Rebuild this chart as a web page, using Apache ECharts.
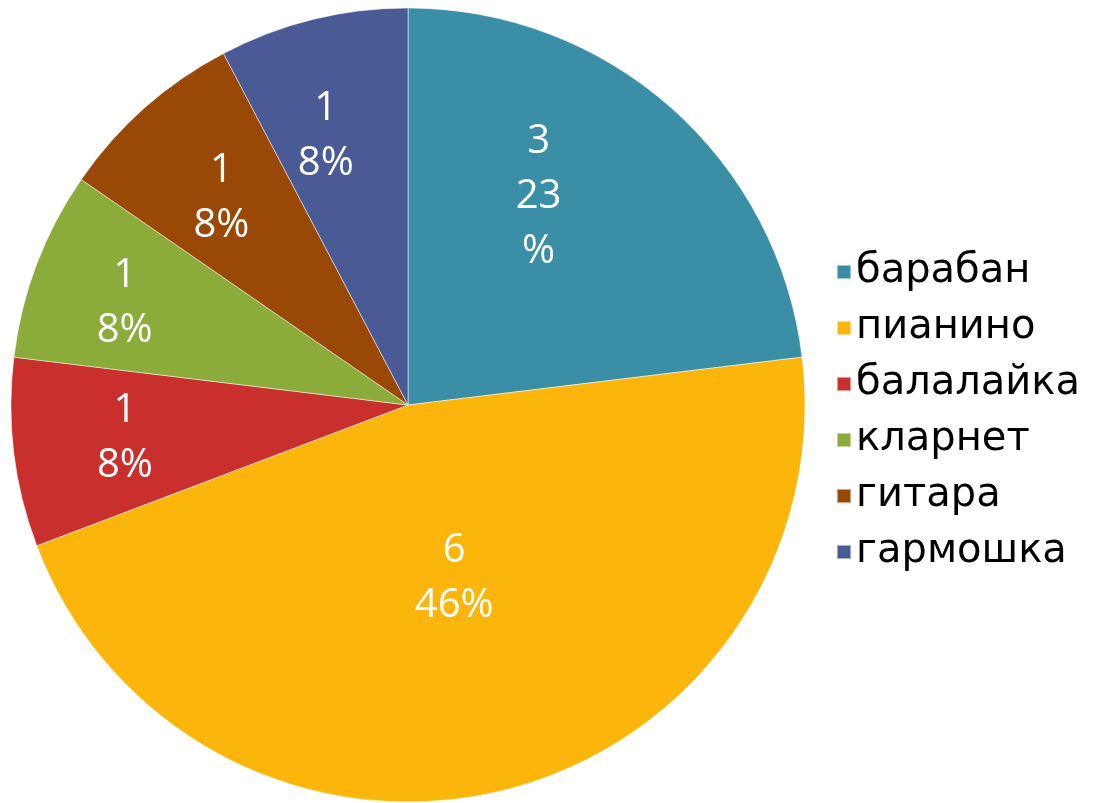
<!DOCTYPE html>
<html>
<head>
<meta charset="utf-8">
<script src="https://cdn.jsdelivr.net/npm/echarts@6/dist/echarts.min.js"></script>
<style>
  html, body { margin: 0; padding: 0; background: #fff; }
  #chart-container { width: 1102px; height: 803px; }
</style>
</head>
<body>
<div id="chart-container"></div>
<script>
var names = ['барабан', 'пианино', 'балалайка', 'кларнет', 'гитара', 'гармошка'];
var values = [3, 6, 1, 1, 1, 1];
var colors = ['#3A8FA7', '#FBB50B', '#C9302D', '#8BAB3A', '#994806', '#4A5A94'];
// nudges to put the inside labels where the original chart had them
var labelNudge = [[-3, -58], [-2, -23], [-83, 9], [-95, -30], [-53, -56], [-34, -73]];

var total = values.reduce(function (a, b) { return a + b; }, 0);

var dom = document.getElementById('chart-container');
var myChart = echarts.init(dom, null, { renderer: 'canvas' });

var pieData = names.map(function (n, i) {
  return { name: n, value: values[i], itemStyle: { color: colors[i] } };
});

var option = {
  animation: false,
  legend: {
    orient: 'vertical',
    left: 831,
    top: 244,
    itemWidth: 14,
    itemHeight: 14,
    itemGap: 10,
    icon: 'rect',
    textStyle: { fontFamily: 'DejaVu Sans', fontSize: 40, lineHeight: 46, color: '#000', padding: [0, 0, 0, 0] },
    data: names
  },
  series: [
    {
      type: 'pie',
      center: [408, 405],
      radius: 397,
      startAngle: 90,
      clockwise: true,
      itemStyle: { borderColor: 'rgba(255,255,255,0.5)', borderWidth: 1 },
      label: {
        show: true,
        position: 'inside',
        formatter: function (p) {
          var pct = Math.round(p.value / total * 100);
          if (p.dataIndex === 0) return p.value + '\n' + pct + '\n%';
          return p.value + '\n' + pct + '%';
        },
        color: '#fff',
        fontFamily: 'Open Sans',
        fontSize: 40,
        lineHeight: 55
      },
      labelLine: { show: false },
      labelLayout: function (p) {
        var s = labelNudge[p.dataIndex];
        return { dx: s[0], dy: s[1] };
      },
      data: pieData
    }
  ]
};

myChart.setOption(option);
window.addEventListener('resize', myChart.resize);
</script>
</body>
</html>
